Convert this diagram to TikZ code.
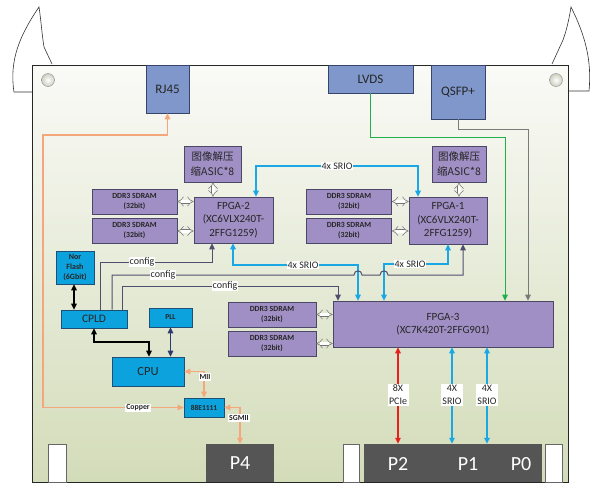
\documentclass[tikz,border=0pt]{standalone}
\usepackage{fontspec}
\setmainfont{Carlito}
\newfontfamily\cjk{Noto Sans CJK SC}
\usetikzlibrary{arrows.meta,calc}
\definecolor{boardtop}{HTML}{FAFAF7}
\definecolor{boardbot}{HTML}{D3DCB9}
\definecolor{purpfill}{HTML}{A08FC4}
\definecolor{purpedge}{HTML}{4C4766}
\definecolor{bluefill}{HTML}{0BA2DD}
\definecolor{blueedge}{HTML}{1D4F77}
\definecolor{connfill}{HTML}{7F97CB}
\definecolor{connedge}{HTML}{36456B}
\definecolor{srio}{HTML}{1AA7E6}
\definecolor{cfgc}{HTML}{504E6E}
\definecolor{orangec}{HTML}{F4A77A}
\definecolor{greenc}{HTML}{1DB04B}
\definecolor{grayc}{HTML}{7A7A7A}
\definecolor{redc}{HTML}{E8201C}
\definecolor{navyc}{HTML}{2E3A6E}
\definecolor{pgray}{HTML}{555555}
\tikzset{
  pbox/.style={draw=purpedge, fill=purpfill, line width=0.6pt, inner sep=1pt, align=center, text=black!85, font=\fontsize{11}{13.5}\selectfont},
  ddr/.style={pbox, minimum width=85pt, minimum height=25pt, font=\fontsize{7.8}{10}\selectfont\bfseries},
  asic/.style={pbox, minimum height=36pt, font=\cjk\fontsize{10.5}{15}\selectfont},
  bbox/.style={draw=blueedge, fill=bluefill, line width=0.6pt, inner sep=1pt, align=center, text=black!85},
  cbox/.style={draw=connedge, fill=connfill, line width=0.6pt, inner sep=1pt, text=black!85, font=\fontsize{13}{15}\selectfont},
  pdark/.style={fill=pgray, inner sep=0pt, text=white, font=\fontsize{20}{22}\selectfont},
  ptext/.style={inner sep=0pt, text=white, font=\fontsize{20}{22}\selectfont},
  tabbox/.style={draw=black!60, fill=white, line width=0.5pt, minimum height=38pt, inner sep=0pt},
  lbl/.style={fill=white, inner sep=1pt, text=black!85, font=\fontsize{10}{11}\selectfont},
  lblsmall/.style={fill=white, inner sep=1pt, text=black!85, font=\fontsize{7.8}{9}\selectfont\bfseries},
  lbltwo/.style={fill=white, inner sep=1.5pt, align=center, text=black!85, font=\fontsize{10}{13}\selectfont},
  tips/.style={{Triangle[length=6pt,width=5.5pt]}-{Triangle[length=6pt,width=5.5pt]}},
  tipend/.style={-{Triangle[length=6pt,width=5.5pt]}},
  sriol/.style={draw=srio, line width=1.1pt, tips},
  cfgl/.style={draw=cfgc, line width=1pt, tipend},
  hollow/.style={draw=black!55, double=white, double distance=3pt, line width=0.5pt, {Implies}-{Implies}},
  earline/.style={draw=black!80, line width=0.6pt}
}
\begin{document}
\begin{tikzpicture}[x=1pt,y=-1pt]
\useasboundingbox (0,0) rectangle (597,488);
% ears
\draw[earline] (32,92) -- (14,92) .. controls (9,60) and (20,35) .. (39,7)
  .. controls (41,20) and (42,35) .. (44,47) -- (52,64);
\draw[earline] (568,91) -- (589,91) .. controls (592,60) and (585,35) .. (571,7)
  .. controls (569,20) and (566,32) .. (563,40) -- (552,64);
% board
\shade[top color=boardtop, bottom color=boardbot] (32,65) rectangle (568,482);
\draw[line width=0.6pt, black!85] (32,65) rectangle (568,482);
\shade[draw=black!45, inner color=white, outer color=boardbot!80!black!60!white] (48,80) circle[radius=6.5];
\shade[draw=black!45, inner color=white, outer color=boardbot!80!black!60!white] (556,80) circle[radius=6.5];

% connectors at top
\node[cbox, minimum width=43pt, minimum height=48pt] (rj45) at (167.5,89) {RJ45};
\node[cbox, minimum width=85pt, minimum height=28pt] (lvds) at (370.5,79) {LVDS};
\node[cbox, minimum width=54pt, minimum height=54pt] (qsfp) at (458,92) {QSFP+};

% purple blocks
\node[asic, minimum width=57pt] (asic2) at (212.5,164) {图像解压\\缩ASIC*8};
\node[asic, minimum width=54pt] (asic1) at (459,164) {图像解压\\缩ASIC*8};
\node[pbox, minimum width=79pt, minimum height=46pt] (fpga2) at (233.5,220) {FPGA-2\\(XC6VLX240T-\\2FFG1259)};
\node[pbox, minimum width=78pt, minimum height=47pt] (fpga1) at (448,220.5) {FPGA-1\\(XC6VLX240T-\\2FFG1259)};
\node[ddr] (ddr2a) at (134.5,201.5) {DDR3 SDRAM\\(32bit)};
\node[ddr] (ddr2b) at (134.5,231) {DDR3 SDRAM\\(32bit)};
\node[ddr] (ddr1a) at (349,201.5) {DDR3 SDRAM\\(32bit)};
\node[ddr] (ddr1b) at (349,231) {DDR3 SDRAM\\(32bit)};
\node[pbox, minimum width=220pt, minimum height=46pt] (fpga3) at (443,324) {FPGA-3\\(XC7K420T-2FFG901)};
\node[ddr, minimum width=88pt] (ddr3a) at (272,314.5) {DDR3 SDRAM\\(32bit)};
\node[ddr, minimum width=88pt] (ddr3b) at (272,343.5) {DDR3 SDRAM\\(32bit)};

% blue blocks
\node[bbox, minimum width=38pt, minimum height=33pt, font=\fontsize{8}{10}\selectfont\bfseries] (nor) at (75,267.5) {Nor\\Flash\\(6Gbit)};
\node[bbox, minimum width=66pt, minimum height=18pt, font=\fontsize{11.5}{13}\selectfont] (cpld) at (94,319) {CPLD};
\node[bbox, minimum width=43pt, minimum height=19pt, font=\fontsize{7.5}{9}\selectfont\bfseries] (pll) at (170.5,317.5) {PLL};
\node[bbox, minimum width=72pt, minimum height=29pt, font=\fontsize{12.5}{14}\selectfont] (cpu) at (148,371.5) {CPU};
\node[bbox, minimum width=40pt, minimum height=19pt, font=\fontsize{7.5}{9}\selectfont\bfseries] (phy) at (204,407.5) {88E1111};

% bottom connectors
\node[tabbox, minimum width=18pt] (tab1) at (57,463) {};
\node[tabbox, minimum width=16pt] (tab2) at (351,463) {};
\node[tabbox, minimum width=17pt] (tab3) at (553.5,463) {};
\node[pdark, minimum width=68pt, minimum height=38pt] (p4) at (240,463) {P4};
\node[pdark, minimum width=178pt, minimum height=38pt] (pbig) at (453,463) {};
\node[ptext] (p2) at (398,464) {P2};
\node[ptext] (p1) at (468,464) {P1};
\node[ptext] (p0) at (521,464) {P0};

% hollow arrows
\draw[hollow] (asic2.south -| 213,0) -- (fpga2.north -| 213,0);
\draw[hollow] (asic1.south -| 459,0) -- (fpga1.north -| 459,0);
\draw[hollow] (ddr2a.east) -- (ddr2a.east -| fpga2.west);
\draw[hollow] (ddr2b.east) -- (ddr2b.east -| fpga2.west);
\draw[hollow] (ddr1a.east) -- (ddr1a.east -| fpga1.west);
\draw[hollow] (ddr1b.east) -- (ddr1b.east -| fpga1.west);
\draw[hollow] (ddr3a.east) -- (ddr3a.east -| fpga3.west);
\draw[hollow] (ddr3b.east) -- (ddr3b.east -| fpga3.west);

% SRIO links
\draw[sriol] (fpga2.north -| 256,0) |- (418,166) -- (fpga1.north -| 418,0);
\draw[sriol] (fpga2.south -| 233,0) |- (358,265) -- (fpga3.north -| 358,0);
\draw[sriol] (fpga1.south -| 448,0) |- (384,264) -- (fpga3.north -| 384,0);

% config lines
\draw[cfgl] (cpld.north -| 100,0) |- (212,262) -- (fpga2.south -| 212,0);
\draw[cfgl] (cpld.north -| 112,0) |- (354,275) .. controls (354,269.5) and (362,269.5) .. (362,275)
  -- (380,275) .. controls (380,269.5) and (388,269.5) .. (388,275) -- (463,275) -- (fpga1.south -| 463,0);
\draw[cfgl] (cpld.north -| 122,0) |- (338,286) -- (fpga3.north -| 338,0);

% LVDS and QSFP
\draw[draw=greenc, line width=1pt, tipend] (lvds.south) |- (505,137) -- (fpga3.north -| 505,0);
\draw[draw=grayc, line width=1pt, tipend] (qsfp.south) |- (528,129) -- (fpga3.north -| 528,0);

% FPGA-3 to backplane
\draw[draw=redc, line width=1.1pt, tips] (fpga3.south -| 398,0) -- (pbig.north -| 398,0);
\draw[sriol] (fpga3.south -| 452,0) -- (pbig.north -| 452,0);
\draw[sriol, line width=1.8pt] (fpga3.south -| 487,0) -- (pbig.north -| 487,0);

% CPU area links
\draw[draw=black, line width=1.1pt, tips] (nor.south -| 74,0) -- (cpld.north -| 74,0);
\draw[draw=black, line width=1.1pt, tips] (cpld.south -| 94,0) |- (149,342) -- (cpu.north -| 149,0);
\draw[draw=navyc, line width=1.1pt, tips] (pll.south) -- (cpu.north -| pll.south);
\draw[draw=orangec, line width=1.1pt, tips] (rj45.south) |- (43,135) |- (phy.west);
\draw[draw=orangec, line width=1.1pt, tips] (cpu.east) -| (phy.north);
\draw[draw=orangec, line width=1.1pt, tips] (phy.east) -| (p4.north);

% labels
\node[lbl] (l1) at (337,166) {4x SRIO};
\node[lbl] (l2) at (303,265) {4x SRIO};
\node[lbl] (l3) at (410,264) {4x SRIO};
\node[lbl] (c1) at (142,262) {config};
\node[lbl] (c2) at (163,275) {config};
\node[lbl] (c3) at (225,286) {config};
\node[lblsmall] (cu) at (138,408) {Copper};
\node[lblsmall] (mii) at (205,377) {MII};
\node[lblsmall] (sg) at (239,418) {SGMII};
\node[lbltwo] (pcie) at (398,395) {8X\\PCIe};
\node[lbltwo] (s1) at (452,395) {4X\\SRIO};
\node[lbltwo] (s2) at (487,395) {4X\\SRIO};
\end{tikzpicture}
\end{document}
